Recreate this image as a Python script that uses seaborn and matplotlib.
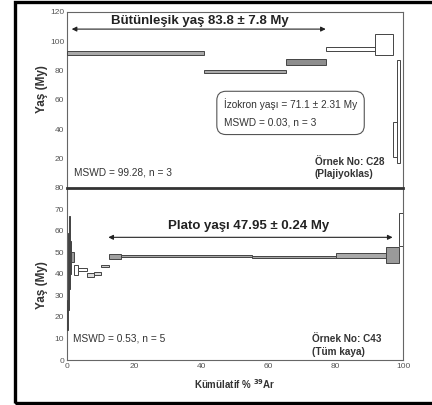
import numpy as np
import matplotlib
matplotlib.use('Agg')
import matplotlib.pyplot as plt
import seaborn as sns
from matplotlib.patches import Rectangle

# --- data (cumulative % 39Ar edges, age limits in My) ---
# upper panel: C28 plagioclase
top_edges = [0, 40.8, 65.2, 77.0, 91.6, 97.0, 98.1, 99.0]
top_lo = [90.4, 78.0, 83.8, 93.4, 90.5, 21.0, 17.0]
top_hi = [93.4, 80.0, 88.0, 96.1, 104.9, 45.0, 87.0]
top_fill = ['#a9a9a9', '#a9a9a9', '#8e8e8e', 'white', 'white', 'white', 'white']

# lower panel: C43 whole rock
bot_edges = [0, 0.3, 0.6, 0.9, 1.3, 2.2, 3.3, 5.9, 8.0, 10.2, 12.5, 16.0, 55.0, 80.2, 94.9, 98.8, 100.0]
bot_lo = [14.0, 23.0, 33.0, 40.0, 45.5, 39.3, 41.3, 38.6, 39.3, 43.3, 46.7, 47.8, 47.4, 47.2, 45.2, 53.0]
bot_hi = [28.0, 59.0, 67.0, 55.0, 50.0, 44.0, 42.8, 40.2, 40.8, 44.2, 49.0, 48.7, 48.3, 49.4, 52.2, 68.0]
bot_fill = ['#777777', '#222222', '#222222', '#444444', '#999999', 'white', 'white', '#dddddd', '#dddddd',
            '#cccccc', '#a0a0a0', '#a9a9a9', '#a9a9a9', '#a9a9a9', '#9a9a9a', 'white']

top_yticks = [20, 40, 60, 80, 100, 120]
bot_yticks = [0, 10, 20, 30, 40, 50, 60, 70, 80]
xticks = [0, 20, 40, 60, 80, 100]

top_title = 'Bütünleşik yaş 83.8 ± 7.8 My'
bot_title = 'Plato yaşı 47.95 ± 0.24 My'
iso_text = 'İzokron yaşı = 71.1 ± 2.31 My\nMSWD = 0.03, n = 3'

sns.set_theme(style='white')
plt.rcParams['font.family'] = ['Liberation Sans', 'DejaVu Sans']

fig = plt.figure(figsize=(4.32, 4.05), dpi=100)
fig.patch.set_facecolor('white')
ax1 = fig.add_axes([0.1551, 0.537, 0.7778, 0.4334])
ax2 = fig.add_axes([0.1551, 0.1111, 0.7778, 0.4259])


def draw_steps(ax, edges, lo, hi, fills):
    edges = np.asarray(edges)
    lo = np.asarray(lo)
    hi = np.asarray(hi)
    ax.bar(edges[:-1], hi - lo, width=np.diff(edges), bottom=lo, align='edge',
           color=fills, edgecolor='#444444', linewidth=0.7, zorder=3)


draw_steps(ax1, top_edges, top_lo, top_hi, top_fill)
draw_steps(ax2, bot_edges, bot_lo, bot_hi, bot_fill)

for ax in (ax1, ax2):
    ax.set_xlim(0, 100)
    ax.set_facecolor('white')
    for s in ax.spines.values():
        s.set_color('#666666')
        s.set_linewidth(0.8)
    ax.tick_params(axis='both', length=0, labelsize=6, labelcolor='#555555', pad=2)

ax1.set_ylim(0, 120)
ax1.set_yticks(top_yticks)
ax1.set_xticks([])
ax1.spines['bottom'].set_visible(False)

ax2.set_ylim(0, 80)
ax2.set_yticks(bot_yticks)
ax2.set_xticks(xticks)
ax2.spines['top'].set_color('#333333')
ax2.spines['top'].set_linewidth(2.0)

ax1.set_ylabel('Yaş (My)', fontsize=8.5, fontweight='bold', color='#333333')
ax1.yaxis.set_label_coords(-0.058, 0.56)
ax2.set_ylabel('Yaş (My)', fontsize=8.5, fontweight='bold', color='#333333')
ax2.yaxis.set_label_coords(-0.058, 0.435)
ax2.set_xlabel(r'Kümülatif % $^{\mathbf{39}}$Ar', fontsize=7, fontweight='bold', color='#333333', labelpad=5)

arrow = dict(arrowstyle='<|-|>', color='#222222', lw=0.8, mutation_scale=7, shrinkA=0, shrinkB=0)

# upper panel annotations
ax1.annotate('', xy=(77, 108.3), xytext=(1.4, 108.3), arrowprops=arrow, zorder=4)
ax1.text(39.4, 113.5, top_title, ha='center', va='center', fontsize=9.5, fontweight='bold', color='#222222')
ax1.text(46.7, 51.0, iso_text, ha='left', va='center', fontsize=7.3, color='#333333', linespacing=1.9,
         bbox=dict(boxstyle='round,pad=0.7,rounding_size=0.9', fc='white', ec='#555555', lw=0.8), zorder=4)
ax1.text(2.0, 10.2, 'MSWD = 99.28, n = 3', ha='left', va='center', fontsize=7.3, color='#333333')
ax1.text(73.8, 13.3, 'Örnek No: C28\n(Plajiyoklas)', ha='left', va='center', fontsize=7.2,
         fontweight='bold', color='#333333', linespacing=1.3)

# lower panel annotations
ax2.annotate('', xy=(96.9, 56.9), xytext=(12.3, 56.9), arrowprops=arrow, zorder=4)
ax2.text(54.2, 62.0, bot_title, ha='center', va='center', fontsize=9.5, fontweight='bold', color='#222222')
ax2.text(1.7, 10.1, 'MSWD = 0.53, n = 5', ha='left', va='center', fontsize=7.3, color='#333333')
ax2.text(72.8, 6.8, 'Örnek No: C43\n(Tüm kaya)', ha='left', va='center', fontsize=7.2,
         fontweight='bold', color='#333333', linespacing=1.3)

# outer black frame
fig.patches.append(Rectangle((15 / 432, 1 - 402.5 / 405), (440 - 15) / 432, (402.5 - 1.5) / 405,
                             transform=fig.transFigure, fill=False, ec='black', lw=2.4))

fig.savefig('out.png', dpi=100)
